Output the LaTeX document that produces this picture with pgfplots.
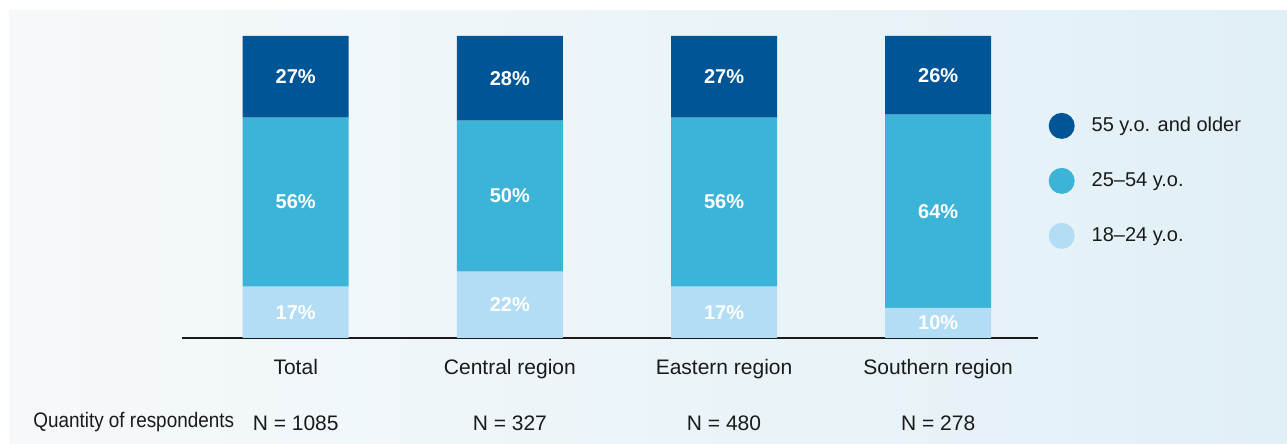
\documentclass[border=0pt]{standalone}
\usepackage{pgfplots}
\pgfplotsset{compat=1.18}
\usepackage{pgfplotstable}
\usepackage{fontspec}
\setmainfont{Liberation Sans}
\definecolor{cDark}{HTML}{005596}
\definecolor{cMid}{HTML}{3CB4D8}
\definecolor{cLight}{HTML}{B3DDF4}
\definecolor{bgA}{HTML}{F6F9FB}
\definecolor{bgB}{HTML}{E1F0F6}
\definecolor{txt}{HTML}{1A1A1A}
\pgfplotsset{circlelegend/.style={legend image code/.code={\fill[##1] (6.5pt,0pt) circle (6.5pt);}}}

\pgfplotstableread{
x young mid old
0 17 56 27
1 22 50 28
2 17 56 27
3 10 64 26
}\agedata

\pgfplotstableread{
x y lab
0 8.5 17\%
0 45 56\%
0 86.5 27\%
1 11 22\%
1 47 50\%
1 86 28\%
2 8.5 17\%
2 45 56\%
2 86.5 27\%
3 5 10\%
3 42 64\%
3 87 26\%
}\labdata

\begin{document}
\begin{tikzpicture}
\useasboundingbox (0,0) rectangle (643.5pt,222pt);
\shade[left color=bgA, right color=bgB, shading angle=90] (4.5pt,0pt) rectangle (643.5pt,216.5pt);
\begin{axis}[
  at={(91pt,53pt)}, anchor=south west,
  width=428pt, height=151pt, scale only axis,
  xmin=-0.531, xmax=3.466, ymin=0, ymax=100,
  ybar stacked, bar width=53pt,
  axis x line*=bottom, axis y line=none,
  x axis line style={-, draw=txt, line width=0.9pt},
  xtick={0,1,2,3}, major tick length=0pt,
  xticklabels={{Total\\[16pt]N = 1085},{Central region\\[16pt]N = 327},{Eastern region\\[16pt]N = 480},{Southern region\\[16pt]N = 278}},
  xticklabel style={align=center, font=\fontsize{10.5}{12}\selectfont, text=txt, anchor=north, yshift=-7pt},
  ytick=\empty,
  legend style={at={(rel axis cs:1.005,0.76)}, anchor=north west, draw=none, fill=none,
    font=\fontsize{10}{12}\selectfont, row sep=14.5pt, text=txt,
    nodes={inner sep=2pt},
    /tikz/every odd column/.style={column sep=6.5pt}},
  legend cell align=left,
  reverse legend,
  clip=false,
]
\addplot[fill=cLight, draw=none, circlelegend] table[x=x, y=young] {\agedata};
\addplot[fill=cMid, draw=none, circlelegend] table[x=x, y=mid] {\agedata};
\addplot[fill=cDark, draw=none, circlelegend] table[x=x, y=old] {\agedata};
\legend{18\textendash 24 y.o., 25\textendash 54 y.o., 55 y.o. and older}
\end{axis}
\begin{axis}[
  at={(91pt,53pt)}, anchor=south west,
  width=428pt, height=151pt, scale only axis,
  xmin=-0.531, xmax=3.466, ymin=0, ymax=100,
  hide axis, clip=false,
]
\addplot[draw=none, mark=none, only marks, point meta=explicit symbolic,
  nodes near coords,
  every node near coord/.style={anchor=center, text=white, font=\bfseries\fontsize{10}{12}\selectfont}]
  table[x=x, y=y, meta=lab] {\labdata};
\end{axis}
\node[anchor=west, inner sep=0pt, text=txt, font=\fontsize{10.5}{12}\selectfont, xscale=0.9] at (16.5pt,11pt) {Quantity of respondents};
\end{tikzpicture}
\end{document}
